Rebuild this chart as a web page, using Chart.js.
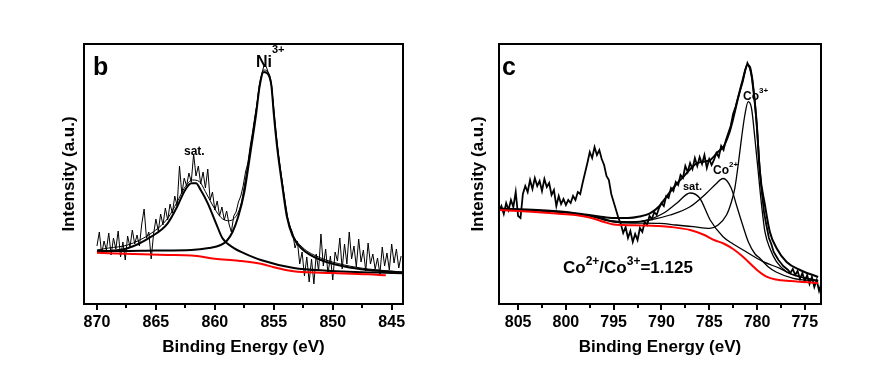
<!DOCTYPE html>
<html>
<head>
<meta charset="utf-8">
<script src="https://cdn.jsdelivr.net/npm/chart.js@4.4.1/dist/chart.umd.min.js"></script>
<style>
    html, body { margin: 0; padding: 0; background: #fff; }
    #page { position: relative; width: 889px; height: 369px; overflow: hidden; font-family: 'Liberation Sans', Arial, sans-serif; }
    canvas { position: absolute; top: 0; }
    #chartB { left: 0; }
    #chartC { left: 444px; }
    .lbl { position: absolute; line-height: 1; white-space: nowrap; color: #000; font-weight: bold; }
    .sup { position: relative; }
</style>
</head>
<body>
<div id="page">
    <canvas id="chartB" width="444" height="369"></canvas>
    <canvas id="chartC" width="445" height="369"></canvas>

    <div class="lbl" style="left:93px; top:54px; font-size:25px">b</div>
    <div class="lbl" style="left:256px; top:54px; font-size:16px">Ni<span class="sup" style="font-size:11px; top:-14px">3+</span></div>
    <div class="lbl" style="left:184px; top:145px; font-size:12px">sat.</div>

    <div class="lbl" style="left:502px; top:54px; font-size:25px">c</div>
    <div class="lbl" style="left:743px; top:90px; font-size:12px">Co<span class="sup" style="font-size:8px; top:-7px">3+</span></div>
    <div class="lbl" style="left:713px; top:164px; font-size:12px">Co<span class="sup" style="font-size:8px; top:-7px">2+</span></div>
    <div class="lbl" style="left:683px; top:181px; font-size:11px">sat.</div>
    <div class="lbl" style="left:563px; top:259px; font-size:17px">Co<span class="sup" style="font-size:12px; top:-8px">2+</span>/Co<span class="sup" style="font-size:12px; top:-8px">3+</span>=1.125</div>
</div>

<script>
// ---- panel b: Ni 2p ----
// raw spectrum, one value every 0.2 eV starting at 870.0 eV
const niStart = 870.0
const niStep = 0.2
const niCounts = [
    58, 72, 50, 63, 54, 71, 49, 66, 55, 73,
    47, 62, 44, 68, 57, 74, 60, 69, 58, 80,
    95, 66, 72, 45, 70, 85, 73, 90, 79, 96,
    84, 100, 91, 108, 98, 138, 110, 126, 118, 131,
    122, 150, 128, 138, 120, 132, 116, 135, 104, 112,
    94, 103, 88, 97, 84, 93, 80, 72, 88, 92,
    102, 108, 118, 132, 141, 158, 172, 188, 202, 218,
    231, 240, 236, 229, 218, 196, 171, 150, 132, 116,
    100, 85, 77, 71, 56, 63, 40, 52, 28, 47,
    22, 45, 20, 50, 33, 70, 38, 55, 30, 48,
    24, 52, 43, 66, 35, 60, 40, 72, 45, 58,
    37, 65, 42, 54, 33, 61, 40, 50, 35, 46,
    30, 57, 38, 51, 34, 60, 41, 55, 36, 48
]

const niBgEnergy = [870, 867, 864, 862, 860, 858, 856, 855, 854, 853, 850, 847, 845.5]
const niBg = [51.3, 50, 49, 48.5, 45.3, 43.3, 40, 36.7, 34, 32.3, 31, 29.7, 28.7]

const niPeakEnergy = [870, 868, 865, 862, 860.5, 859.5, 859, 858.5, 858, 857.5, 857, 856.5, 856.2, 855.85, 855.5, 855.2, 855.0, 854.7, 854.3, 853.9, 853.4, 852.6, 851, 849, 847, 844.04]
const niPeak = [53, 53, 53.5, 54, 56, 59, 63, 72, 88, 112, 150, 190, 218, 232, 230, 218, 190, 155, 120, 88, 68, 55, 44, 37.5, 34, 31.5]

const niSatEnergy = [870, 867.4, 865.4, 864, 863.2, 862.6, 862.0, 861.6, 861.2, 860.6, 859.9, 859.35, 858.35, 857.5, 856.1, 853.3, 850.5, 844.04]
const niSat = [52, 55.7, 67.3, 80.7, 97.3, 112.3, 120.7, 120.7, 114, 100.7, 80.7, 65.7, 55.7, 50.7, 44, 36, 33.3, 30.7]

const niSumEnergy = [870, 869, 867.4, 865.4, 864, 863.2, 862.6, 861.9, 861.3, 860.8, 860.2, 859.5, 858.9, 858.35, 857.8, 857.5, 857, 856.5, 856.2, 855.85, 855.5, 855.2, 855.0, 854.7, 854.3, 853.9, 853.4, 852.6, 851, 849, 847, 844.04]
const niSum = [54, 56, 59, 70.7, 85.7, 102, 115.7, 124, 122.3, 112.3, 99, 86.7, 83.3, 85.7, 99, 118, 155, 194, 221, 234, 232, 220, 192, 158, 123, 90, 70, 57, 46, 39, 35, 32]

const niTickLabels = [870, 865, 860, 855, 850, 845]

// ---- panel c: Co 2p ----
// raw spectrum, one value every 0.25 eV starting at 807.0 eV
const coStart = 807.0
const coStep = 0.25
const coCounts = [
    93, 98, 90, 101, 94, 104, 97, 112, 88, 86,
    110, 118, 112, 124, 115, 126, 118, 123, 113, 125,
    117, 121, 109, 114, 98, 108, 100, 105, 99, 104,
    101, 108, 104, 112, 110, 121, 131, 141, 152, 146,
    157, 149, 154, 145, 139, 128, 124, 110, 102, 94,
    86, 80, 71, 77, 66, 73, 62, 70, 64, 76,
    72, 82, 79, 88, 85, 92, 89, 96, 101, 98,
    108, 106, 116, 113, 122, 119, 129, 126, 138, 132,
    141, 135, 146, 138, 147, 140, 149, 136, 145, 139,
    144, 151, 147, 158, 154, 164, 171, 178, 190, 197,
    206, 214, 222, 233, 241, 236, 226, 205, 176, 140,
    112, 91, 78, 66, 60, 52, 48, 44, 41, 38,
    36, 34, 31, 35, 29, 33, 25, 31, 23, 29,
    20, 27, 17, 24, 13, 21
]

const coBgEnergy = [807, 804, 801, 799, 797.5, 796, 795, 794, 792, 790.5, 789, 787, 785.5, 784.5, 783.5, 782.5, 781.5, 780.5, 780, 779, 778, 776.5, 775, 773.6]
const coBg = [94, 92.5, 90.5, 89, 86.5, 82, 79.5, 79, 78.5, 78, 77, 74, 69, 64, 60.5, 55, 47.5, 38.5, 34, 27.3, 24.5, 23, 22, 21]

const coSumEnergy = [807, 803, 800, 798, 796.5, 795, 793.5, 792.3, 791.2, 790.2, 789.5, 788.6, 787.7, 786.3, 784.9, 784.1, 783.5, 782.9, 782.5, 782.2, 781.8, 781.5, 781.0, 780.7, 780.4, 780.04, 779.7, 779.17, 778.65, 777.96, 776.9, 775.5, 773.6]
const coSum = [95.5, 94, 92, 89.5, 87.5, 86, 86, 87.5, 90.7, 98, 107, 118, 127.3, 140.7, 144, 152, 157.5, 171, 185, 197, 213, 224, 239, 236, 216, 182, 132, 99, 72, 56, 42, 34, 27]

const co3Energy = [807, 803, 800, 797.5, 796, 795, 793, 790.17, 788.5, 786.68, 784.94, 784.07, 783.19, 782.67, 782.32, 781.97, 781.62, 781.27, 780.92, 780.57, 780.22, 779.87, 779.52, 779.17, 778.65, 777.96, 776.91, 775.51, 773.6]
const co3 = [95, 93.5, 91.5, 88, 84, 82, 81, 80.7, 79, 77.3, 75.7, 79, 89, 102.3, 115.7, 139, 165.7, 189, 202.3, 195.7, 165.7, 132.3, 99, 72.3, 55.7, 42.3, 32.3, 27.3, 23]

const co2Energy = [807, 803, 800, 797.5, 796, 795, 793, 791.2, 789.1, 787.0, 785.3, 784.3, 783.55, 782.7, 782.15, 781.6, 780.9, 780.2, 779.7, 778.8, 778, 776.2, 773.6]
const co2 = [95, 93.5, 91.5, 88.5, 85, 83, 82, 84, 89, 97.3, 110.7, 120, 125.5, 116, 99, 82, 62, 50, 45.7, 37, 32, 25.7, 23]

const coSatEnergy = [807, 803, 800, 797.5, 796, 795, 793, 791.2, 789.8, 788.4, 787.0, 786.0, 784.9, 783.55, 782.5, 781.45, 779.36, 777.6, 776.6, 775, 773.6]
const coSat = [95, 93.5, 91.5, 88.5, 85, 82.5, 82, 84.7, 90.7, 100.7, 111, 106, 84, 67.3, 60, 54, 42.3, 35.7, 30.7, 26, 23.5]

const coTickLabels = [805, 800, 795, 790, 785, 780, 775]

const FONT = "'Liberation Sans', Arial, sans-serif"

/**
 * Pair an energy list with a value list
 */
function toPoints(energies, values) {
    return values.map((v, i) => ({ x: energies[i], y: v }))
}

/**
 * Raw spectrum on a regular energy grid (decreasing energy)
 */
function gridPoints(start, step, values) {
    return values.map((v, i) => ({ x: +(start - i * step).toFixed(2), y: v }))
}

function curve(data, color, width, smooth) {
    return {
        data: data,
        borderColor: color,
        borderWidth: width,
        pointRadius: 0,
        fill: false,
        tension: 0,
        cubicInterpolationMode: smooth ? 'monotone' : 'default'
    }
}

/**
 * Box around the plot area, plus outward tick marks on the energy axis
 * @param {number[]} majorValues ticks that carry a label (long marks)
 */
function framePlugin(majorValues) {
    return {
        id: 'frame',
        afterDraw(chart) {
            const { ctx, chartArea } = chart
            const xScale = chart.scales.x
            ctx.save()
            ctx.strokeStyle = '#000'
            ctx.lineWidth = 2
            ctx.strokeRect(chartArea.left, chartArea.top, chartArea.right - chartArea.left, chartArea.bottom - chartArea.top)

            for (const tick of xScale.ticks) {
                const major = majorValues.indexOf(tick.value) >= 0
                const px = Math.round(xScale.getPixelForValue(tick.value))
                ctx.beginPath()
                ctx.moveTo(px, chartArea.bottom)
                ctx.lineTo(px, chartArea.bottom + (major ? 6 : 4))
                ctx.stroke()
            }
            ctx.restore()
        }
    }
}

function makeChart(canvasId, datasets, cfg) {
    const isMajor = v => cfg.labels.indexOf(v) >= 0
    return new Chart(document.getElementById(canvasId), {
        type: 'line',
        data: { datasets: datasets },
        options: {
            responsive: false,
            animation: false,
            events: [],
            layout: { padding: { left: 0, top: 44, right: cfg.padRight, bottom: 0 } },
            plugins: {
                legend: { display: false },
                tooltip: { enabled: false }
            },
            scales: {
                x: {
                    type: 'linear',
                    position: 'bottom',
                    reverse: true,
                    min: cfg.min,
                    max: cfg.max,
                    border: { display: false },
                    grid: { display: false },
                    ticks: {
                        stepSize: 2.5,
                        includeBounds: false,
                        autoSkip: false,
                        maxRotation: 0,
                        padding: 1,
                        color: '#000',
                        font: { family: FONT, size: 16, weight: 'bold' },
                        callback: v => (isMajor(v) ? v : '')
                    },
                    title: {
                        display: true,
                        text: 'Binding Energy (eV)',
                        color: '#000',
                        font: { family: FONT, size: 17, weight: 'bold' },
                        padding: { top: 0, bottom: 11 }
                    },
                    afterFit: scale => { scale.height = 65 }
                },
                y: {
                    min: 0,
                    max: 260,
                    border: { display: false },
                    grid: { display: false },
                    ticks: { display: false },
                    title: {
                        display: true,
                        text: 'Intensity (a.u.)',
                        color: '#000',
                        font: { family: FONT, size: 17, weight: 'bold' },
                        padding: { top: cfg.titlePad, bottom: 0 }
                    },
                    afterFit: scale => { scale.width = cfg.axisWidth }
                }
            }
        },
        plugins: [framePlugin(cfg.labels)]
    })
}

makeChart('chartB', [
    curve(toPoints(niBgEnergy, niBg), '#ff0000', 2, true),
    curve(toPoints(niPeakEnergy, niPeak), '#000', 2, true),
    curve(toPoints(niSatEnergy, niSat), '#000', 2, true),
    curve(toPoints(niSumEnergy, niSum), '#000', 1, true),
    curve(gridPoints(niStart, niStep, niCounts), '#000', 1, false)
], { min: 844.04, max: 871.1, padRight: 41, axisWidth: 84, titlePad: 59, labels: niTickLabels })

makeChart('chartC', [
    curve(toPoints(coBgEnergy, coBg), '#ff0000', 2, true),
    curve(toPoints(coSumEnergy, coSum), '#000', 2, true),
    curve(toPoints(co3Energy, co3), '#000', 1.3, true),
    curve(toPoints(co2Energy, co2), '#000', 1.3, true),
    curve(toPoints(coSatEnergy, coSat), '#000', 1.3, true),
    curve(gridPoints(coStart, coStep, coCounts), '#000', 1.8, false)
], { min: 773.3, max: 807.0, padRight: 68, axisWidth: 55, titlePad: 24, labels: coTickLabels })
</script>
</body>
</html>
